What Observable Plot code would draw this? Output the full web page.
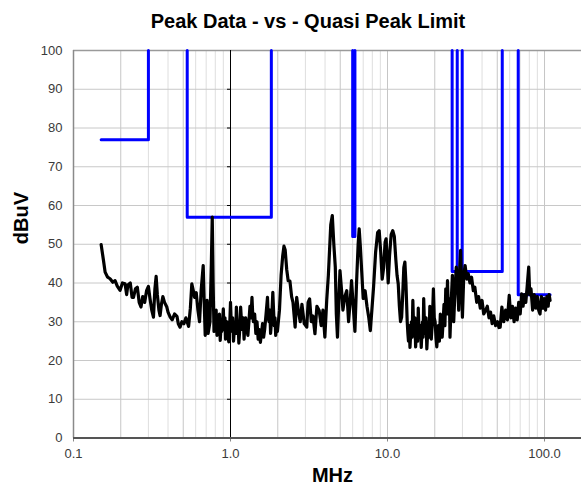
<!DOCTYPE html>
<html><head><meta charset="utf-8">
<script src="https://cdn.jsdelivr.net/npm/d3@7"></script>
<script src="https://cdn.jsdelivr.net/npm/@observablehq/plot@0.6"></script>
<style>
body{margin:0;background:#fff;overflow:hidden;font-family:"Liberation Sans",Arial,sans-serif}
#title{height:25px;padding-top:11px;padding-left:35px;line-height:20px;font-size:20px;font-weight:bold;text-align:center;color:#000;width:546px}
#chart svg{display:block}
</style></head><body>
<div id="title">Peak Data - vs - Quasi Peak Limit</div>
<div id="chart"></div>
<script>
const xTicks = [0.1, 1, 10, 100];
const xTickLabels = ["0.1", "1.0", "10.0", "100.0"];
const yTicks = [0, 10, 20, 30, 40, 50, 60, 70, 80, 90, 100];
const gridMid = [0.2, 0.5, 2, 5, 10, 20, 50, 100];
const gridLight = [0.3, 0.4, 0.6, 0.7, 0.8, 0.9, 3, 4, 6, 7, 8, 9, 30, 40, 60, 70, 80, 90];
const gridY = [10, 20, 30, 40, 50, 60, 70, 80, 90];

// Quasi peak limit (MHz, dBuV); NaN = break
const limitFreq = [0.15, 0.3, 0.3, NaN, 0.53, 0.53, 1.82, 1.82, NaN, 6.0, 6.0, 6.2, 6.2, NaN,
  25.8, 25.8, 27.8, 27.8, NaN, 29.9, 29.9, 53.8, 53.8, NaN, 68, 68, 108.5];
const limitLevel = [77, 77, 100, NaN, 100, 57, 57, 100, NaN, 100, 52, 52, 100, NaN,
  100, 43, 43, 100, NaN, 100, 43, 43, 100, NaN, 100, 37, 37];

// Peak data (MHz, dBuV)
const peakFreq = [
0.150,0.155,0.159,0.165,0.171,0.178,0.184,0.190,0.198,0.205,
0.213,0.218,0.222,0.230,0.236,0.241,0.248,0.255,0.262,0.269,
0.276,0.284,0.292,0.300,0.307,0.315,0.323,0.330,0.336,0.342,
0.350,0.356,0.363,0.371,0.380,0.393,0.400,0.413,0.425,0.440,
0.456,0.465,0.477,0.490,0.505,0.520,0.541,0.555,0.567,0.580,
0.590,0.605,0.620,0.635,0.650,0.670,0.680,0.690,0.700,0.710,
0.720,0.740,0.755,0.765,0.775,
0.785,0.792,0.800,0.810,0.820,0.830,0.840,0.850,0.860,0.870,
0.880,0.890,0.900,0.908,0.915,0.922,0.930,0.940,0.950,0.962,
0.975,0.988,1.000,1.010,1.020,1.032,1.045,1.058,1.070,1.080,
1.090,1.100,1.110,1.120,1.130,1.145,1.160,1.175,1.190,1.205,
1.220,1.235,1.250,1.270,1.290,1.310,1.330,1.350,1.370,1.385,
1.400,1.425,1.450,1.475,1.500,1.525,1.550,1.575,1.600,1.625,
1.650,1.685,1.720,1.740,1.760,1.780,1.800,1.830,1.860,1.880,
1.900,1.920,1.940,1.965,1.990,
2.050,2.100,2.150,2.190,2.230,2.280,2.330,2.390,2.450,2.500,
2.580,2.640,2.700,2.780,2.850,2.950,3.060,3.120,3.190,3.270,
3.350,3.450,3.550,3.670,3.780,3.880,3.990,4.100,4.200,4.350,
4.450,4.550,4.650,4.720,4.800,4.900,4.980,5.100,5.200,5.350,
5.500,5.650,5.800,5.900,6.050,6.200,6.350,6.500,6.600,6.700,
6.850,7.000,7.200,7.400,7.600,7.770,7.950,8.150,8.400,8.650,
8.850,9.050,9.250,9.450,9.650,9.800,9.950,10.10,10.30,10.55,
10.80,11.05,11.30,11.50,11.70,11.90,12.10,12.30,12.50,12.70,
12.90,13.10,
13.35,13.48,13.60,13.75,13.90,14.05,14.20,14.35,14.50,14.65,
14.80,14.95,15.10,15.25,15.40,15.55,15.70,15.85,16.00,16.20,
16.40,16.55,16.70,16.85,17.00,17.20,17.40,17.60,17.80,18.00,
18.20,18.40,18.60,18.80,19.00,19.30,19.60,19.85,20.10,20.35,
20.60,20.85,21.10,21.40,21.70,22.00,22.30,22.60,22.90,23.20,
23.50,23.80,24.10,24.35,24.60,24.80,25.00,
25.50,25.90,26.40,26.90,27.40,27.90,28.40,28.80,29.20,29.60,
30.00,30.60,31.20,32.00,32.70,33.50,34.30,35.20,36.00,37.00,
38.00,39.00,40.00,41.00,42.10,43.20,44.30,45.30,46.40,47.50,
48.80,50.20,51.30,52.20,53.50,55.00,56.50,58.00,59.60,61.00,
62.50,64.00,65.50,67.00,68.50,70.00,71.50,73.00,74.50,76.00,
77.50,79.30,80.50,82.00,84.00,86.00,88.00,90.00,91.80,93.60,
95.50,97.50,99.50,101.5,103.5,105.5,107.0,108.5];
const peakLevel = [
49.9,46.0,42.8,41.5,41.1,40.2,40.6,39.2,38.1,40.0,
39.8,37.0,39.5,40.0,36.3,36.3,38.5,38.9,35.0,33.8,
36.5,35.0,38.0,39.1,36.0,33.0,31.2,38.5,41.7,37.0,
33.0,31.6,34.5,36.5,35.0,33.8,32.5,31.2,30.5,32.0,
31.4,29.5,28.6,30.0,29.5,31.0,28.8,33.5,39.8,38.0,
36.3,37.5,33.0,30.0,38.0,44.5,35.0,26.5,32.0,35.5,
27.0,30.0,45.0,57.0,40.0,
27.5,31.0,29.0,33.0,26.5,30.0,28.5,32.0,25.2,29.0,
27.5,30.0,33.3,29.0,28.0,31.0,25.5,28.0,30.0,27.0,
24.8,29.0,35.0,30.0,27.5,31.0,25.0,28.0,30.0,27.0,
33.8,30.0,27.0,29.0,24.5,28.0,33.8,30.0,28.0,31.0,
25.5,29.0,31.0,28.0,26.5,30.0,34.0,31.0,36.3,32.0,
30.0,32.0,27.0,30.0,25.5,28.0,24.7,27.0,29.5,26.0,
28.0,32.0,36.3,31.0,30.0,33.0,27.0,31.0,37.6,33.0,
29.0,31.0,26.5,29.0,27.5,
33.0,42.0,47.0,49.5,48.5,43.5,40.6,40.5,36.5,35.0,
28.6,36.3,33.0,30.0,34.5,29.5,28.6,35.0,35.9,30.0,
31.5,26.9,34.0,32.9,29.0,33.0,26.0,35.5,42.0,55.0,
57.4,50.0,44.1,32.0,26.0,36.0,43.2,38.0,33.0,36.5,
38.0,30.0,36.0,40.6,34.0,27.5,40.0,50.0,54.0,50.0,
43.0,36.0,38.0,34.0,31.0,27.7,33.0,39.0,48.0,53.0,
53.5,48.0,41.0,44.0,50.5,51.4,46.0,40.0,47.0,52.5,
53.5,52.0,46.0,42.0,39.8,34.0,30.0,31.2,37.0,44.0,
45.4,40.0,
30.0,27.0,25.0,29.0,23.4,27.0,30.0,26.0,35.5,29.0,
27.0,31.0,23.5,27.0,28.0,25.0,33.5,28.0,26.0,29.0,
23.4,27.0,30.0,26.0,36.0,29.0,27.0,31.0,23.0,27.0,
30.0,26.0,34.0,28.0,25.5,30.0,38.5,31.0,30.0,26.0,
23.5,27.0,29.0,25.0,32.0,28.0,26.0,30.0,34.5,29.0,
38.5,32.0,40.6,34.0,32.0,36.0,26.0,
36.0,42.0,30.0,38.0,44.1,41.0,33.0,43.0,48.4,40.0,
31.2,42.0,44.5,41.0,42.4,40.0,41.5,38.0,38.9,35.0,
36.5,33.5,35.5,32.0,32.9,34.0,31.0,32.5,29.5,31.5,
29.0,30.0,28.5,28.6,33.8,30.0,33.0,30.5,36.8,31.0,
34.0,30.0,33.5,30.5,35.0,32.0,37.2,34.0,37.0,35.0,
39.0,44.1,37.0,38.5,33.0,37.0,33.5,36.5,33.0,32.0,
36.5,33.5,36.0,33.0,36.5,34.0,37.0,35.5];

const limit = limitFreq.map((f, i) => ({f, v: limitLevel[i]}));
const peak = peakFreq.map((f, i) => ({f, v: peakLevel[i]}));

const chart = Plot.plot({
  width: 581, height: 456,
  marginLeft: 73, marginRight: 0, marginTop: 14, marginBottom: 54.5,
  style: {fontFamily: "'Liberation Sans', Arial, sans-serif", fontSize: "13px", color: "#3a3a3a", background: "white"},
  x: {type: "log", domain: [0.1, 172]},
  y: {domain: [0, 100]},
  marks: [
    Plot.ruleX(gridLight, {stroke: "#dedede", strokeWidth: 1}),
    Plot.ruleX(gridMid, {stroke: "#c6c6c6", strokeWidth: 1}),
    Plot.ruleY(gridY, {stroke: "#c8c8c8", strokeWidth: 1}),
    Plot.ruleY([100], {stroke: "#9a9a9a", strokeWidth: 1.5}),
    Plot.ruleX([1], {stroke: "#000", strokeWidth: 1}),
    Plot.ruleY(gridY, {x1: 0.957, x2: 1, stroke: "#000", strokeWidth: 1}),
    Plot.ruleX([0.1], {stroke: "#8a8a8a", strokeWidth: 1.5}),
    Plot.axisX(xTicks, {tickFormat: d => xTickLabels[xTicks.indexOf(d)], tickSize: 4, tickPadding: 7, stroke: "#888", label: null}),
    Plot.axisY(yTicks, {tickSize: 0, tickPadding: 11, label: null}),
    Plot.line(limit, {x: "f", y: "v", stroke: "#0000ff", strokeWidth: 3}),
    Plot.line(peak, {x: "f", y: "v", stroke: "#000", strokeWidth: 3.2, strokeLinejoin: "round"}),
    Plot.ruleY([0], {stroke: "#555", strokeWidth: 2}),
    Plot.text(["dBuV"], {frameAnchor: "left", rotate: -90, dx: -51.5, fontSize: 20, fontWeight: "bold", fill: "#000"}),
    Plot.text(["MHz"], {frameAnchor: "bottom", dx: 5, dy: 43.5, fontSize: 20, fontWeight: "bold", fill: "#000"})
  ]
});
document.getElementById("chart").appendChild(chart);
</script></body></html>
